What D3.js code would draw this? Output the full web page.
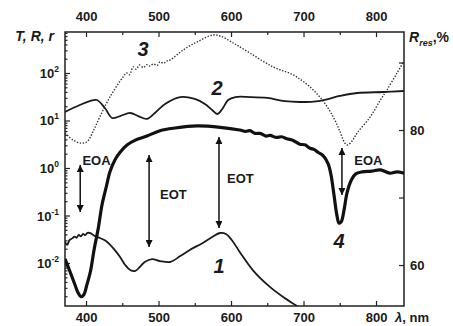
<!DOCTYPE html>
<html><head><meta charset="utf-8">
<script src="https://cdn.jsdelivr.net/npm/d3@7/dist/d3.min.js"></script>
<style>
html,body{margin:0;padding:0;background:#fff;}
svg{display:block;}
text{font-family:"Liberation Sans",Arial,sans-serif;font-weight:bold;fill:#1a1a1a;}
</style></head>
<body><svg id="c" width="453" height="326"></svg>
<script>
// ---- data ----
const xTicks = [400, 500, 600, 700, 800];
const xMinorTicks = [450, 550, 650, 750];
const yLeftExp = [-2, -1, 0, 1, 2];
const yRightTicks = [60, 70, 80, 90];
const yRightLabels = [60, 80];

// curve 1 (T, thin)
const c1Lambda = [371,374,377,381,384,387,390,393,396,399,402,406,412,419,426,433,440,447,454,461,468,474,481,491,502,516,530,543,561,574,585,593,601,612,630,654,674,691,702];
const c1Value  = [0.0277,0.0240,0.0300,0.0330,0.0360,0.0340,0.0390,0.0365,0.0410,0.0385,0.0430,0.0425,0.0370,0.0336,0.0300,0.0245,0.0185,0.0134,0.0091,0.0071,0.0068,0.0082,0.0105,0.0121,0.0110,0.0105,0.0140,0.0188,0.0264,0.0353,0.0428,0.0408,0.0305,0.0171,0.0071,0.0031,0.00183,0.00124,0.00093];

// curve 2 (R, thin)
const c2Lambda = [371,385,405,415,426,436,447,461,472,484,495,509,530,550,564,574,581,588,596,606,626,650,674,695,723,750,774,810,839];
const c2Value  = [15.1,19.2,25.7,27.0,18.3,11.3,12.4,14.4,12.4,10.8,14.4,22.3,31.2,28.4,22.3,16.6,13.7,17.5,27.0,31.2,31.2,29.8,25.5,24.5,26.0,32.8,37.9,39.8,41.8];

// curve 3 (r, dotted)
const c3Lambda = [371,382,392,401,410,419,433,451,456,460,465,469,474,479,484,488,493,498,502,507,512,516,534,553,575,585,603,626,658,686,709,727,741,750,757,761,767,774,792,806,815,829,837];
const c3Value  = [5.46,3.89,3.36,3.53,6.01,11.9,31.2,82.4,100,92,134,120,147,130,150,140,155,145,171,160,180,188,305,449,631,601,428,264,134,90.8,50.7,25.7,11.9,6.0,3.36,3.05,3.7,5.46,11.9,27.0,43.9,100,163];

// curve 4 (R_res, %, thick, right axis)
const c4Lambda = [371,378,385,389,393,397,401,406,411,417,422,428,433,440,447,457,468,484,502,523,553,585,612,620,626,633,640,648,654,662,670,677,685,695,702,709,715,720,727,734,738,742,746,749,752,756,760,766,772,781,794,806,819,829,839];
const c4Value  = [60.9,59.0,57.0,55.9,55.3,55.6,57.0,59.0,62.2,65.5,68.9,71.6,73.8,75.6,76.7,77.8,78.5,79.1,79.9,80.3,80.6,80.4,80.0,79.8,79.9,79.5,79.5,79.1,79.2,78.9,79.0,78.7,78.5,77.9,77.8,77.3,77.1,76.7,76.2,75.0,73.3,70.4,67.4,66.2,66.4,68.2,70.7,72.6,73.5,73.8,73.9,74.1,73.6,73.8,73.6];

// annotations: arrows on left (log) axis
const arrowLabels = ["EOA", "EOT", "EOT", "EOA"];
const arrowLambda = [392, 487, 583.4, 753];
const arrowTop    = [1.16, 1.88, 4.49, 2.64];
const arrowBottom = [0.118, 0.0216, 0.0547, 0.27];
const arrowTextLambda = [395, 502, 594.5, 770];
const arrowTextValue  = [1.16, 0.222, 0.483, 1.16];

const curveNames = ["3", "2", "1", "4"];
const curveNameLambda = [478.6, 580.7, 583.4, 749];
const curveNameValue  = [228, 34.4, 0.00613, 0.0206];

// ---- layout ----
const L = 65, R = 404, T = 32, B = 306;
const svg = d3.select("#c");
const x = d3.scaleLinear().domain([371, 838.6]).range([L, R]);
const yL = d3.scaleLog().domain([Math.pow(10, -2.905), Math.pow(10, 2.863)]).range([B, T]);
const yR = d3.scaleLinear().domain([53.93, 94.52]).range([B, T]);

const defs = svg.append("defs");
defs.append("clipPath").attr("id", "clip")
  .append("rect").attr("x", L).attr("y", T).attr("width", R - L).attr("height", B - T);
defs.append("marker").attr("id", "ah").attr("viewBox", "0 0 10 10")
  .attr("refX", 10).attr("refY", 5).attr("markerWidth", 9).attr("markerHeight", 7)
  .attr("markerUnits", "userSpaceOnUse").attr("orient", "auto-start-reverse")
  .append("path").attr("d", "M0,0 L10,5 L0,10 Z").attr("fill", "#111");

function styleAxis(g) {
  g.select(".domain").remove();
  g.selectAll(".tick line").attr("stroke", "#222").attr("stroke-width", 1.2);
  g.selectAll("text").style("font-size", "13px").style("font-family", '"Liberation Sans",Arial,sans-serif')
    .style("font-weight", "bold").attr("fill", "#1a1a1a");
}

svg.append("g").attr("transform", `translate(0,${B})`)
  .call(d3.axisBottom(x).tickValues(xTicks).tickSize(-5).tickSizeOuter(0).tickPadding(7).tickFormat(d3.format("d")))
  .call(styleAxis);
svg.append("g").attr("transform", `translate(0,${B})`)
  .call(d3.axisBottom(x).tickValues(xMinorTicks).tickSize(-3).tickSizeOuter(0).tickFormat(""))
  .call(styleAxis);
svg.append("g").attr("transform", `translate(0,${T})`)
  .call(d3.axisTop(x).tickValues(xTicks).tickSize(-5).tickSizeOuter(0).tickPadding(11).tickFormat(d3.format("d")))
  .call(styleAxis);
svg.append("g").attr("transform", `translate(0,${T})`)
  .call(d3.axisTop(x).tickValues(xMinorTicks).tickSize(-3).tickSizeOuter(0).tickFormat(""))
  .call(styleAxis);

const majorL = yLeftExp.map(e => Math.pow(10, e));
const minorL = [];
for (let k = -3; k <= 2; k++) for (let m = 2; m <= 9; m++) {
  const v = m * Math.pow(10, k);
  if (v > yL.domain()[0] && v < yL.domain()[1]) minorL.push(v);
}
svg.append("g").attr("transform", `translate(${L},0)`)
  .call(d3.axisLeft(yL).tickValues(majorL).tickSize(-5).tickSizeOuter(0).tickFormat(""))
  .call(styleAxis);
svg.append("g").attr("transform", `translate(${L},0)`)
  .call(d3.axisLeft(yL).tickValues(minorL).tickSize(-2.5).tickSizeOuter(0).tickFormat(""))
  .call(styleAxis);
const lab = svg.append("g");
yLeftExp.forEach(e => {
  const t = lab.append("text").attr("x", 59).attr("y", yL(Math.pow(10, e)) + 5)
    .attr("text-anchor", "end").style("font-size", "13px");
  t.append("tspan").text("10");
  t.append("tspan").attr("dy", -6).style("font-size", "8.5px").text(String(e));
});

svg.append("g").attr("transform", `translate(${R},0)`)
  .call(d3.axisRight(yR).tickValues(yRightTicks).tickSize(-5).tickSizeOuter(0).tickPadding(6)
    .tickFormat(d => yRightLabels.includes(d) ? d : ""))
  .call(styleAxis);

svg.append("rect").attr("x", L).attr("y", T).attr("width", R - L).attr("height", B - T)
  .attr("fill", "none").attr("stroke", "#222").attr("stroke-width", 1.5);

const plot = svg.append("g").attr("clip-path", "url(#clip)");
const lineL = d3.line().x(d => x(d[0])).y(d => yL(d[1])).curve(d3.curveCatmullRom.alpha(0.5));
const lineR = d3.line().x(d => x(d[0])).y(d => yR(d[1])).curve(d3.curveCatmullRom.alpha(0.5));
const zip = (a, b) => a.map((v, i) => [v, b[i]]);

plot.append("path").datum(zip(c3Lambda, c3Value)).attr("d", lineL)
  .attr("fill", "none").attr("stroke", "#333").attr("stroke-width", 1.4).attr("stroke-dasharray", "1.4,1.6");
plot.append("path").datum(zip(c2Lambda, c2Value)).attr("d", lineL)
  .attr("fill", "none").attr("stroke", "#1a1a1a").attr("stroke-width", 1.8);
plot.append("path").datum(zip(c1Lambda, c1Value)).attr("d", lineL)
  .attr("fill", "none").attr("stroke", "#1a1a1a").attr("stroke-width", 1.8);
plot.append("path").datum(zip(c4Lambda, c4Value)).attr("d", lineR)
  .attr("fill", "none").attr("stroke", "#111").attr("stroke-width", 3.2).attr("stroke-linejoin", "round");

arrowLambda.forEach((l, i) => {
  svg.append("line").attr("x1", x(l)).attr("x2", x(l))
    .attr("y1", yL(arrowTop[i])).attr("y2", yL(arrowBottom[i]))
    .attr("stroke", "#111").attr("stroke-width", 1.5)
    .attr("marker-start", "url(#ah)").attr("marker-end", "url(#ah)");
  svg.append("text").attr("x", x(arrowTextLambda[i])).attr("y", yL(arrowTextValue[i]))
    .style("font-size", "13px").text(arrowLabels[i]);
});

curveNames.forEach((n, i) => {
  svg.append("text").attr("x", x(curveNameLambda[i])).attr("y", yL(curveNameValue[i]))
    .attr("text-anchor", "middle").style("font-size", "20px").style("font-style", "italic").text(n);
});

svg.append("text").attr("x", 54).attr("y", 41).attr("text-anchor", "end")
  .style("font-size", "14px").style("font-style", "italic").text("T, R, r");
const rt = svg.append("text").attr("x", 409).attr("y", 42).style("font-size", "14px");
rt.append("tspan").style("font-style", "italic").text("R");
rt.append("tspan").attr("dy", 4).style("font-size", "9px").style("font-style", "italic").text("res");
rt.append("tspan").attr("dy", -4).text(",%");
const lt = svg.append("text").attr("x", 395).attr("y", 322).style("font-size", "13px");
lt.append("tspan").style("font-style", "italic").text("λ");
lt.append("tspan").text(", nm");
</script></body></html>
